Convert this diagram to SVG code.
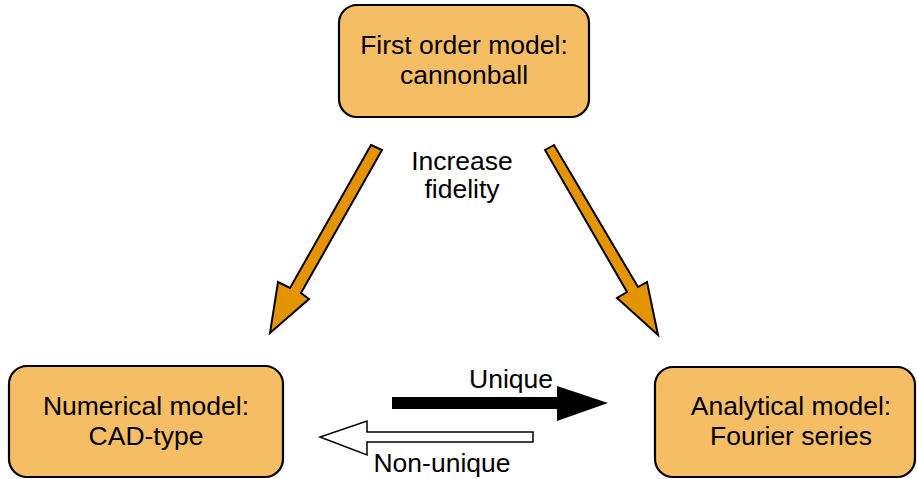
<svg xmlns="http://www.w3.org/2000/svg" width="917" height="479" viewBox="0 0 917 479">
<style>
.box{fill:#F6BE64;stroke:#000;stroke-width:2.2}
.lbl{font-family:"Liberation Sans",Arial,sans-serif;font-size:26.5px;fill:#000;text-anchor:middle}
.oarrow{fill:#E39400;stroke:#000;stroke-width:2;stroke-linejoin:miter}
</style>
<rect width="917" height="479" fill="#fff"/>
<g id="node-first">
<rect class="box" x="339" y="5" width="250" height="112" rx="18"/>
<text class="lbl" x="464" y="54">First order model:</text>
<text class="lbl" x="464" y="84">cannonball</text>
</g>
<g id="node-numerical">
<rect class="box" x="9" y="366" width="274" height="111" rx="18"/>
<text class="lbl" x="146" y="415">Numerical model:</text>
<text class="lbl" x="146" y="445">CAD-type</text>
</g>
<g id="node-analytical">
<rect class="box" x="655" y="367" width="260" height="110" rx="18"/>
<text class="lbl" x="791" y="415">Analytical model:</text>
<text class="lbl" x="791" y="445">Fourier series</text>
</g>
<g id="connectors">
<polygon class="oarrow" points="371,145 382,150 301,293 309,299 270,333 278,282 290,288"/>
<polygon class="oarrow" points="545,150 554,145 638,287 647,282 658,335 617,298 627,292"/>
<polygon fill="#000" points="392,397 557,397 557,386 608,403 557,421 557,409 392,409"/>
<polygon fill="#fff" stroke="#000" stroke-width="1.5" points="533,432 367,432 367,421 320,437 367,455 367,442 533,442"/>
<text class="lbl" x="462" y="170">Increase</text>
<text class="lbl" x="462" y="198">fidelity</text>
<text class="lbl" x="511" y="388">Unique</text>
<text class="lbl" x="442" y="472">Non-unique</text>
</g>
</svg>
